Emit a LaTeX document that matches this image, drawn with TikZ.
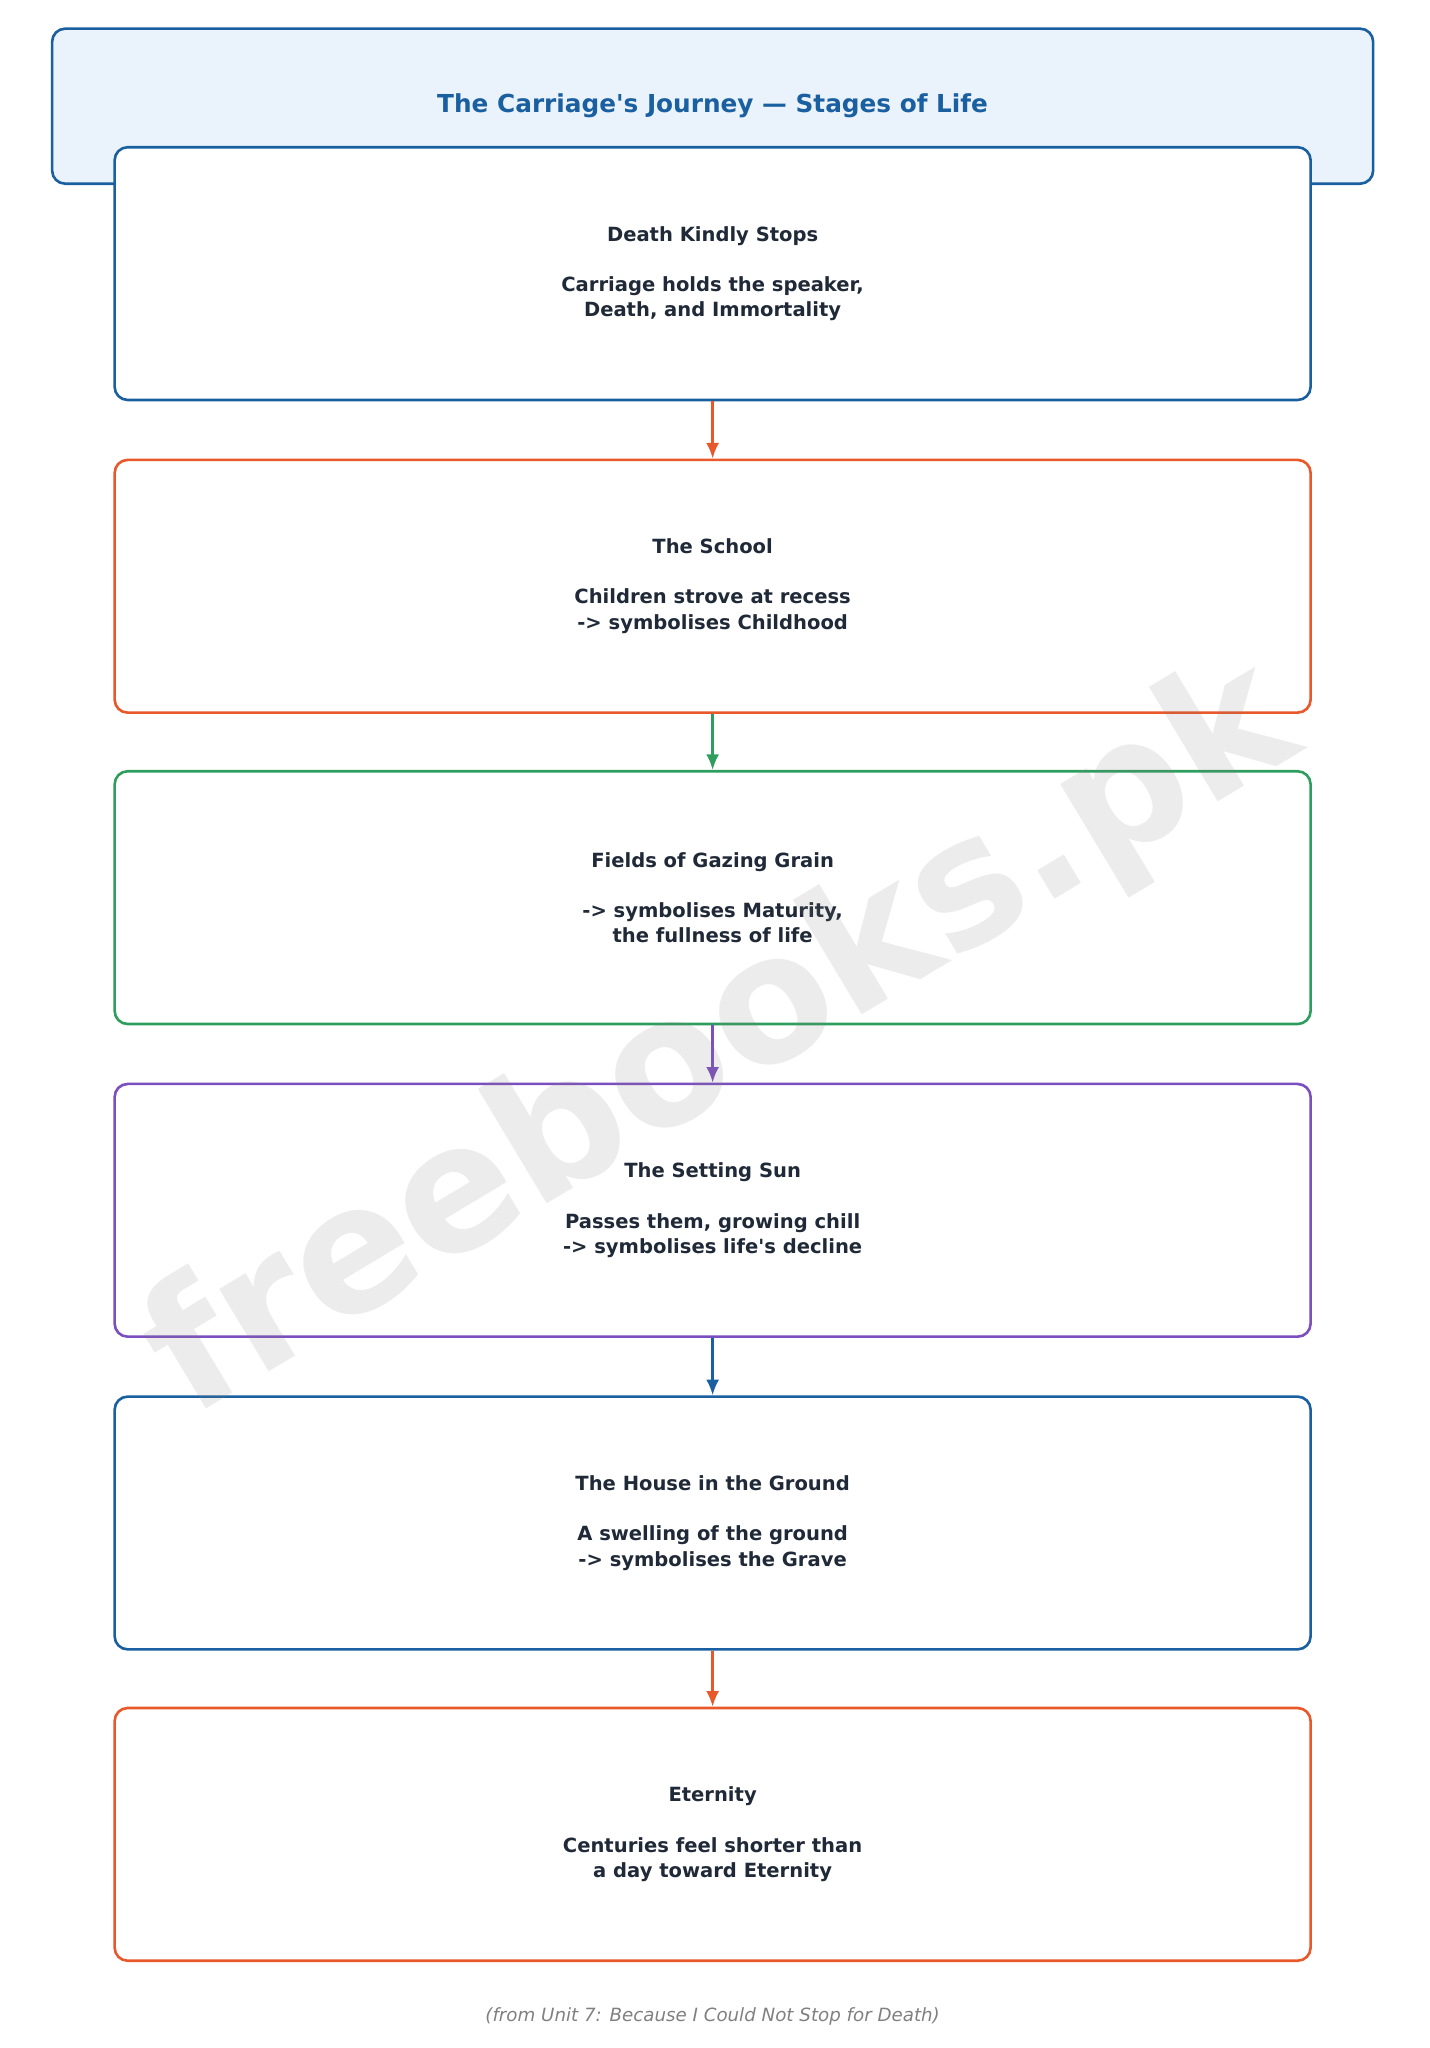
\documentclass[tikz,border=0pt]{standalone}
\usepackage{fontspec}
\setmainfont{DejaVu Sans}
\usetikzlibrary{positioning,arrows.meta}
\definecolor{cblue}{HTML}{1A5FA0}
\definecolor{corange}{HTML}{E8582A}
\definecolor{cgreen}{HTML}{2E9E5E}
\definecolor{cpurple}{HTML}{7B4FBF}
\definecolor{ctext}{HTML}{1F2937}
\definecolor{ctitle}{HTML}{EAF3FC}
\tikzset{
  stage/.style={rectangle, rounded corners=10pt, draw, line width=2pt, fill=white,
    minimum width=918pt, minimum height=194pt, align=center, text=ctext,
    font=\bfseries\fontsize{15}{19.5}\selectfont},
  flow/.style={-{Latex[length=12pt,width=10pt]}, line width=2pt}
}
\begin{document}
\begin{tikzpicture}[x=1pt, y=1pt]
  \useasboundingbox (0,0) rectangle (1097,-1572);
  \node[rectangle, rounded corners=10pt, draw=cblue, line width=2pt, fill=ctitle,
    minimum width=1014pt, minimum height=119pt] (title) at (547,-81.5) {};
  \node[text=cblue, font=\bfseries\fontsize{19}{23}\selectfont] (titletext) at (547,-81) {The Carriage\textquotesingle s Journey — Stages of Life};
  \node[stage, draw=cblue] (death) at (547,-210) {Death Kindly Stops\\[19pt]Carriage holds the speaker,\\Death, and Immortality};
  \node[stage, draw=corange] (school) at (547,-450) {The School\\[19pt]Children strove at recess\\-> symbolises Childhood};
  \node[stage, draw=cgreen] (grain) at (547,-689) {Fields of Gazing Grain\\[19pt]-> symbolises Maturity,\\the fullness of life};
  \node[stage, draw=cpurple] (sun) at (547,-929) {The Setting Sun\\[19pt]Passes them, growing chill\\-> symbolises life\textquotesingle s decline};
  \node[stage, draw=cblue] (house) at (547,-1169) {The House in the Ground\\[19pt]A swelling of the ground\\-> symbolises the Grave};
  \node[stage, draw=corange] (eternity) at (547,-1408) {Eternity\\[19pt]Centuries feel shorter than\\a day toward Eternity};
  \draw[flow, corange] (death) -- (school);
  \draw[flow, cgreen] (school) -- (grain);
  \draw[flow, cpurple] (grain) -- (sun);
  \draw[flow, cblue] (sun) -- (house);
  \draw[flow, corange] (house) -- (eternity);
  % watermark
  \node[rotate=31, text=gray, opacity=0.15, font=\bfseries\fontsize{135}{135}\selectfont] (mark) at (555,-800) {freebooks.pk};
  \node[text=gray, font=\itshape\fontsize{14}{17}\selectfont] (source) at (547,-1548) {(from Unit 7: Because I Could Not Stop for Death)};
\end{tikzpicture}
\end{document}
